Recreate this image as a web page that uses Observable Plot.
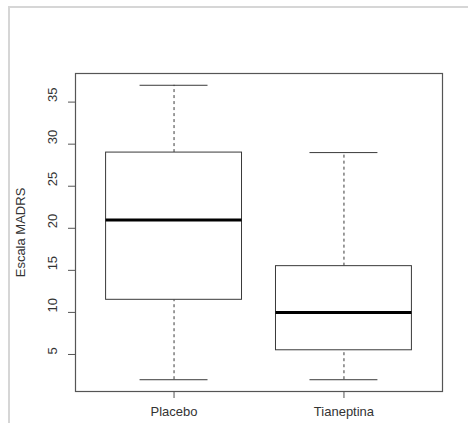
<!DOCTYPE html>
<html>
<head>
<meta charset="utf-8">
<script src="https://cdn.jsdelivr.net/npm/d3@7"></script>
<script src="https://cdn.jsdelivr.net/npm/@observablehq/plot@0.6"></script>
<style>
  html, body { margin: 0; padding: 0; background: #fff; }
  #wrap { position: relative; width: 468px; height: 423px; }
  #border { position: absolute; left: 8px; top: 6px; right: 0; bottom: 0; border-top: 2px solid #d6d6d6; border-left: 2px solid #d6d6d6; pointer-events: none; }
  svg { font-family: "Liberation Sans", Arial, sans-serif; }
</style>
</head>
<body>
<div id="wrap"><div id="border"></div></div>
<script>
const categories = ["Placebo", "Tianeptina"];
const lowerWhisker = [2, 2];
const q1 = [11.5, 5.5];
const median = [21, 10];
const q3 = [29, 15.5];
const upperWhisker = [37, 29];
const yTicks = [5, 10, 15, 20, 25, 30, 35];

const data = categories.map((c, i) => ({
  name: c, pos: i + 1,
  lo: lowerWhisker[i], q1: q1[i], med: median[i], q3: q3[i], hi: upperWhisker[i]
}));

const stroke = "#3a3a3a";
const chart = Plot.plot({
  width: 468, height: 423,
  marginLeft: 75, marginRight: 26, marginTop: 73, marginBottom: 32,
  style: { fontFamily: "Liberation Sans, Arial, sans-serif", fontSize: "13px", color: "#333", background: "transparent" },
  x: { type: "linear", domain: [0.42, 2.58] },
  y: { domain: [0.6, 38.4] },
  marks: [
    Plot.ruleX(data, { x: "pos", y1: "q3", y2: "hi", stroke, strokeDasharray: "3,3", strokeWidth: 1 }),
    Plot.ruleX(data, { x: "pos", y1: "lo", y2: "q1", stroke, strokeDasharray: "3,3", strokeWidth: 1 }),
    Plot.ruleY(data, { y: "hi", x1: d => d.pos - 0.2, x2: d => d.pos + 0.2, stroke, strokeWidth: 1 }),
    Plot.ruleY(data, { y: "lo", x1: d => d.pos - 0.2, x2: d => d.pos + 0.2, stroke, strokeWidth: 1 }),
    Plot.rect(data, { x1: d => d.pos - 0.4, x2: d => d.pos + 0.4, y1: "q1", y2: "q3", fill: "white", stroke, strokeWidth: 1 }),
    Plot.ruleY(data, { y: "med", x1: d => d.pos - 0.4, x2: d => d.pos + 0.4, stroke: "black", strokeWidth: 3 }),
    Plot.frame({ stroke: "#555", strokeWidth: 1.2 }),
    Plot.axisX({ ticks: data.map(d => d.pos), tickFormat: d => categories[d - 1], tickSize: 7, tickPadding: 8, label: null, stroke: "#555" }),
    Plot.axisY({ ticks: yTicks, tickSize: 7, tickFormat: () => "", label: "Escala MADRS", labelAnchor: "center", labelArrow: "none", labelOffset: 60, stroke: "#555" }),
    Plot.text(yTicks, { y: d => d, text: d => String(d), frameAnchor: "left", rotate: -90, dx: -23, fill: "#333" })
  ]
});
chart.style.position = "absolute";
chart.style.left = "0px";
chart.style.top = "0px";
document.getElementById("wrap").prepend(chart);
</script>
</body>
</html>
